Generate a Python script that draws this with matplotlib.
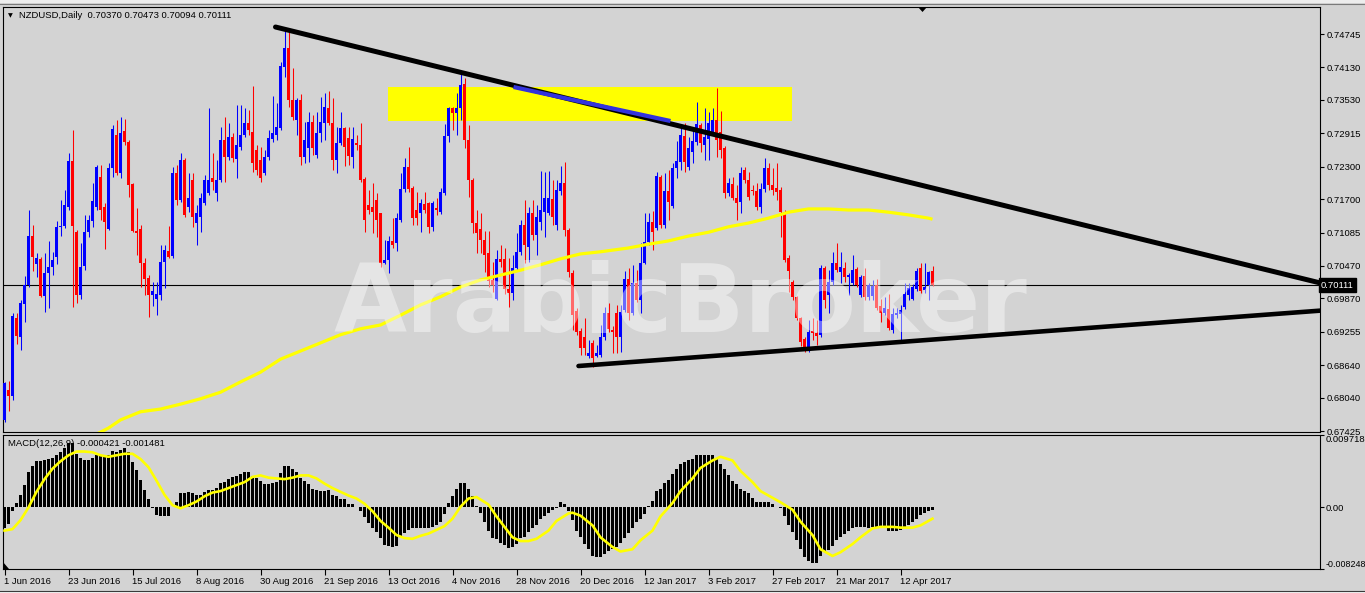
import matplotlib
matplotlib.use("Agg")
import matplotlib.pyplot as plt
import matplotlib.transforms as mtransforms
from matplotlib.patches import Rectangle, Polygon
from matplotlib.lines import Line2D

plt.rcParams['font.family'] = ['Liberation Sans', 'DejaVu Sans']

# ---------------- data ----------------
header = "NZDUSD,Daily  0.70370 0.70473 0.70094 0.70111"
macd_header = "MACD(12,26,9) -0.000421 -0.001481"
last_price = 0.70111

date_labels = ["1 Jun 2016", "23 Jun 2016", "15 Jul 2016", "8 Aug 2016", "30 Aug 2016",
               "21 Sep 2016", "13 Oct 2016", "4 Nov 2016", "28 Nov 2016", "20 Dec 2016",
               "12 Jan 2017", "3 Feb 2017", "27 Feb 2017", "21 Mar 2017", "12 Apr 2017"]
label_step = 16

price_ticks = [0.74745, 0.74130, 0.73530, 0.72915, 0.72300, 0.71700, 0.71085,
               0.70470, 0.69870, 0.69255, 0.68640, 0.68040, 0.67425]
macd_top = 0.009718
macd_bottom = -0.008248

opens = [
 0.6763, 0.6818, 0.6807, 0.6951, 0.6916, 0.6976, 0.7011, 0.7102, 0.7050, 0.7059,
 0.6991, 0.7034, 0.7045, 0.7063, 0.7118, 0.7120, 0.7155, 0.7240, 0.7110, 0.6993,
 0.7047, 0.7109, 0.7130, 0.7155, 0.7211, 0.7155, 0.7115, 0.7227, 0.7288, 0.7218,
 0.7295, 0.7275, 0.7198, 0.7111, 0.7115, 0.7052, 0.7024, 0.6993, 0.6986, 0.6993,
 0.7054, 0.7074, 0.7065, 0.7218, 0.7168, 0.7242, 0.7155, 0.7205, 0.7126, 0.7137,
 0.7163, 0.7181, 0.7209, 0.7181, 0.7205, 0.7279, 0.7248, 0.7284, 0.7244, 0.7266,
 0.7288, 0.7310, 0.7293, 0.7260, 0.7242, 0.7218, 0.7248, 0.7281, 0.7288, 0.7301,
 0.7413, 0.7449, 0.7353, 0.7316, 0.7353, 0.7248, 0.7264, 0.7312, 0.7251, 0.7292,
 0.7310, 0.7338, 0.7310, 0.7242, 0.7273, 0.7301, 0.7283, 0.7248, 0.7273, 0.7270,
 0.7207, 0.7159, 0.7155, 0.7168, 0.7144, 0.7052, 0.7058, 0.7093, 0.7089, 0.7131,
 0.7188, 0.7229, 0.7190, 0.7150, 0.7144, 0.7161, 0.7163, 0.7118, 0.7153, 0.7146,
 0.7181, 0.7286, 0.7338, 0.7329, 0.7338, 0.7382, 0.7279, 0.7205, 0.7126, 0.7115,
 0.7094, 0.7071, 0.7021, 0.6986, 0.7059, 0.7059, 0.7004, 0.6997, 0.7043, 0.7072,
 0.7122, 0.7082, 0.7144, 0.7104, 0.7128, 0.7146, 0.7144, 0.7170, 0.7122, 0.7185,
 0.7200, 0.7113, 0.7034, 0.6963, 0.6927, 0.6916, 0.6880, 0.6904, 0.6880, 0.6882,
 0.6916, 0.6960, 0.6929, 0.6960, 0.6916, 0.6965, 0.7022, 0.6960, 0.7015, 0.6984,
 0.7052, 0.7091, 0.7128, 0.7117, 0.7211, 0.7122, 0.7185, 0.7157, 0.7227, 0.7238,
 0.7286, 0.7229, 0.7257, 0.7275, 0.7307, 0.7270, 0.7281, 0.7292, 0.7316, 0.7294,
 0.7264, 0.7181, 0.7198, 0.7172, 0.7165, 0.7224, 0.7205, 0.7187, 0.7185, 0.7155,
 0.7188, 0.7227, 0.7196, 0.7190, 0.7187, 0.7146, 0.7061, 0.7017, 0.6989, 0.6951,
 0.6912, 0.6897, 0.6927, 0.6923, 0.6919, 0.7043, 0.6993, 0.7017, 0.7052, 0.7035,
 0.7043, 0.7026, 0.7015, 0.7041, 0.6993, 0.7028, 0.6989, 0.6991, 0.7011, 0.6973,
 0.6960, 0.6967, 0.6929, 0.6956, 0.6958, 0.6971, 0.6993, 0.6986, 0.7004, 0.7043,
 0.7002, 0.7011, 0.70370]
highs = [
 0.6833, 0.6835, 0.6960, 0.6960, 0.6984, 0.7028, 0.7150, 0.7122, 0.7071, 0.7063,
 0.7071, 0.7093, 0.7072, 0.7130, 0.7168, 0.7187, 0.7255, 0.7297, 0.7113, 0.7089,
 0.7141, 0.7141, 0.7200, 0.7233, 0.7233, 0.7163, 0.7237, 0.7307, 0.7316, 0.7321,
 0.7318, 0.7279, 0.7200, 0.7153, 0.7122, 0.7061, 0.7030, 0.7017, 0.7017, 0.7085,
 0.7085, 0.7120, 0.7229, 0.7233, 0.7255, 0.7246, 0.7218, 0.7218, 0.7159, 0.7181,
 0.7214, 0.7338, 0.7255, 0.7242, 0.7303, 0.7321, 0.7310, 0.7292, 0.7343, 0.7343,
 0.7338, 0.7334, 0.7378, 0.7270, 0.7266, 0.7260, 0.7297, 0.7360, 0.7347, 0.7423,
 0.7482, 0.7478, 0.7411, 0.7356, 0.7364, 0.7312, 0.7330, 0.7325, 0.7330, 0.7358,
 0.7366, 0.7369, 0.7356, 0.7303, 0.7330, 0.7303, 0.7303, 0.7303, 0.7288, 0.7310,
 0.7211, 0.7187, 0.7200, 0.7181, 0.7144, 0.7094, 0.7102, 0.7135, 0.7144, 0.7218,
 0.7246, 0.7266, 0.7194, 0.7183, 0.7170, 0.7183, 0.7165, 0.7166, 0.7172, 0.7190,
 0.7308, 0.7340, 0.7340, 0.7366, 0.7402, 0.7393, 0.7307, 0.7209, 0.7150, 0.7144,
 0.7111, 0.7111, 0.7054, 0.7076, 0.7085, 0.7080, 0.7061, 0.7067, 0.7107, 0.7131,
 0.7168, 0.7155, 0.7168, 0.7159, 0.7222, 0.7220, 0.7222, 0.7205, 0.7205, 0.7231,
 0.7238, 0.7116, 0.7039, 0.6969, 0.6932, 0.6951, 0.6910, 0.6910, 0.6901, 0.6938,
 0.6971, 0.6978, 0.6936, 0.6975, 0.6975, 0.7037, 0.7043, 0.7048, 0.7039, 0.7089,
 0.7144, 0.7144, 0.7148, 0.7220, 0.7214, 0.7218, 0.7224, 0.7237, 0.7277, 0.7307,
 0.7310, 0.7284, 0.7303, 0.7349, 0.7310, 0.7338, 0.7330, 0.7338, 0.7375, 0.7332,
 0.7268, 0.7209, 0.7211, 0.7196, 0.7229, 0.7229, 0.7220, 0.7196, 0.7200, 0.7200,
 0.7246, 0.7237, 0.7227, 0.7237, 0.7192, 0.7150, 0.7067, 0.7021, 0.6991, 0.6952,
 0.6915, 0.6947, 0.6951, 0.6947, 0.7048, 0.7046, 0.7039, 0.7072, 0.7089, 0.7072,
 0.7054, 0.7034, 0.7067, 0.7045, 0.7030, 0.7043, 0.7015, 0.7021, 0.7022, 0.6986,
 0.6989, 0.6995, 0.6969, 0.6969, 0.6975, 0.7015, 0.7015, 0.7013, 0.7043, 0.7052,
 0.7052, 0.7037, 0.70473]
lows = [
 0.6759, 0.6779, 0.6799, 0.6903, 0.6892, 0.6943, 0.7008, 0.7037, 0.7026, 0.6989,
 0.6962, 0.6969, 0.7030, 0.7050, 0.7102, 0.7117, 0.7150, 0.6971, 0.6978, 0.6986,
 0.7039, 0.7100, 0.7118, 0.7150, 0.7131, 0.7078, 0.7113, 0.7211, 0.7214, 0.7209,
 0.7270, 0.7174, 0.7109, 0.7067, 0.7008, 0.6993, 0.6953, 0.6973, 0.6956, 0.6984,
 0.7006, 0.7061, 0.7061, 0.7159, 0.7165, 0.7137, 0.7146, 0.7118, 0.7085, 0.7109,
 0.7159, 0.7177, 0.7187, 0.7166, 0.7201, 0.7201, 0.7242, 0.7238, 0.7209, 0.7260,
 0.7284, 0.7288, 0.7220, 0.7214, 0.7201, 0.7214, 0.7242, 0.7275, 0.7279, 0.7297,
 0.7395, 0.7340, 0.7316, 0.7288, 0.7233, 0.7237, 0.7238, 0.7251, 0.7246, 0.7275,
 0.7279, 0.7307, 0.7224, 0.7218, 0.7270, 0.7231, 0.7233, 0.7227, 0.7260, 0.7201,
 0.7109, 0.7142, 0.7107, 0.7100, 0.7045, 0.7050, 0.7034, 0.7080, 0.7074, 0.7128,
 0.7183, 0.7183, 0.7122, 0.7122, 0.7109, 0.7144, 0.7107, 0.7111, 0.7141, 0.7142,
 0.7177, 0.7275, 0.7297, 0.7288, 0.7316, 0.7264, 0.7174, 0.7107, 0.7071, 0.7071,
 0.7035, 0.7008, 0.6998, 0.6984, 0.7045, 0.6995, 0.6971, 0.6984, 0.7039, 0.7067,
 0.7052, 0.7054, 0.7094, 0.7067, 0.7113, 0.7100, 0.7141, 0.7122, 0.7113, 0.7177,
 0.7102, 0.7026, 0.6929, 0.6919, 0.6882, 0.6882, 0.6877, 0.6860, 0.6879, 0.6879,
 0.6910, 0.6925, 0.6886, 0.6886, 0.6888, 0.6962, 0.6947, 0.6956, 0.6980, 0.6960,
 0.7050, 0.7085, 0.7076, 0.7113, 0.7117, 0.7117, 0.7131, 0.7153, 0.7209, 0.7224,
 0.7220, 0.7224, 0.7237, 0.7270, 0.7257, 0.7242, 0.7242, 0.7288, 0.7248, 0.7246,
 0.7172, 0.7176, 0.7168, 0.7131, 0.7144, 0.7200, 0.7168, 0.7177, 0.7150, 0.7144,
 0.7183, 0.7187, 0.7177, 0.7168, 0.7100, 0.7054, 0.6998, 0.6984, 0.6947, 0.6900,
 0.6888, 0.6888, 0.6910, 0.6901, 0.6916, 0.6969, 0.6960, 0.7011, 0.7035, 0.7015,
 0.7017, 0.6993, 0.7011, 0.7008, 0.6989, 0.6984, 0.6984, 0.6984, 0.6965, 0.6943,
 0.6956, 0.6929, 0.6923, 0.6951, 0.6910, 0.6967, 0.6984, 0.6984, 0.7000, 0.6997,
 0.6997, 0.6984, 0.70094]
closes = [
 0.6831, 0.6807, 0.6954, 0.6917, 0.6978, 0.7011, 0.7102, 0.7063, 0.7061, 0.6991,
 0.7034, 0.7045, 0.7058, 0.7118, 0.7120, 0.7159, 0.7240, 0.7120, 0.6993, 0.7045,
 0.7109, 0.7131, 0.7166, 0.7229, 0.7150, 0.7128, 0.7227, 0.7299, 0.7218, 0.7292,
 0.7275, 0.7196, 0.7111, 0.7107, 0.7052, 0.7023, 0.6993, 0.7000, 0.6995, 0.7054,
 0.7076, 0.7063, 0.7218, 0.7168, 0.7242, 0.7141, 0.7172, 0.7137, 0.7144, 0.7172,
 0.7205, 0.7205, 0.7201, 0.7205, 0.7279, 0.7248, 0.7284, 0.7246, 0.7270, 0.7288,
 0.7310, 0.7297, 0.7237, 0.7224, 0.7209, 0.7248, 0.7283, 0.7292, 0.7303, 0.7415,
 0.7449, 0.7353, 0.7321, 0.7353, 0.7248, 0.7279, 0.7312, 0.7264, 0.7292, 0.7312,
 0.7340, 0.7310, 0.7242, 0.7273, 0.7301, 0.7266, 0.7249, 0.7281, 0.7270, 0.7205,
 0.7131, 0.7150, 0.7146, 0.7131, 0.7052, 0.7058, 0.7093, 0.7085, 0.7135, 0.7188,
 0.7229, 0.7188, 0.7135, 0.7135, 0.7163, 0.7150, 0.7118, 0.7163, 0.7150, 0.7183,
 0.7286, 0.7338, 0.7329, 0.7338, 0.7380, 0.7279, 0.7205, 0.7126, 0.7107, 0.7094,
 0.7067, 0.7019, 0.7011, 0.7059, 0.7054, 0.7004, 0.6997, 0.7043, 0.7072, 0.7122,
 0.7085, 0.7144, 0.7104, 0.7137, 0.7150, 0.7172, 0.7172, 0.7137, 0.7187, 0.7200,
 0.7113, 0.7035, 0.6956, 0.6925, 0.6895, 0.6895, 0.6886, 0.6877, 0.6886, 0.6916,
 0.6960, 0.6930, 0.6925, 0.6916, 0.6962, 0.7022, 0.6960, 0.7015, 0.6984, 0.7052,
 0.7091, 0.7128, 0.7109, 0.7213, 0.7122, 0.7185, 0.7165, 0.7227, 0.7240, 0.7288,
 0.7238, 0.7264, 0.7277, 0.7308, 0.7273, 0.7284, 0.7310, 0.7316, 0.7279, 0.7260,
 0.7181, 0.7200, 0.7172, 0.7163, 0.7218, 0.7205, 0.7174, 0.7185, 0.7155, 0.7188,
 0.7227, 0.7196, 0.7187, 0.7183, 0.7146, 0.7058, 0.7037, 0.6989, 0.6951, 0.6906,
 0.6895, 0.6925, 0.6923, 0.6917, 0.7043, 0.6984, 0.7017, 0.7052, 0.7039, 0.7045,
 0.7026, 0.7030, 0.7039, 0.7011, 0.7026, 0.6989, 0.7011, 0.7009, 0.6969, 0.6960,
 0.6969, 0.6932, 0.6958, 0.6960, 0.6965, 0.6995, 0.7006, 0.7008, 0.7037, 0.7000,
 0.7008, 0.7035, 0.70111]

ma_bars = [22, 26, 29, 34, 39, 44, 49, 54, 59, 64, 69, 74, 79, 84, 89, 94, 99, 104,
           109, 114, 119, 124, 129, 134, 139, 144, 149, 156, 161, 166, 171, 176, 181,
           186, 191, 196, 201, 206, 211, 216, 221, 226, 231, 232]
ma_vals = [0.6733, 0.6748, 0.6763, 0.6778, 0.6783, 0.6792, 0.6802, 0.6814, 0.6833,
           0.6851, 0.6875, 0.6890, 0.6905, 0.6920, 0.6931, 0.6938, 0.6956, 0.6975,
           0.6990, 0.7008, 0.7021, 0.7030, 0.7039, 0.7049, 0.7060, 0.7069, 0.7073,
           0.7080, 0.7087, 0.7093, 0.7102, 0.7109, 0.7119, 0.7126, 0.7135, 0.7146,
           0.7152, 0.7152, 0.7150, 0.7150, 0.7146, 0.7141, 0.7135, 0.7133]

macd_hist = [
 -0.0028, -0.0022, -0.0005, 0.0006, 0.0017, 0.0030, 0.0048, 0.0055, 0.0062, 0.0062,
 0.0064, 0.0065, 0.0066, 0.0071, 0.0075, 0.0080, 0.0086, 0.0087, 0.0072, 0.0066,
 0.0064, 0.0064, 0.0066, 0.0071, 0.0071, 0.0069, 0.0070, 0.0076, 0.0075, 0.0077,
 0.0080, 0.0074, 0.0061, 0.0050, 0.0037, 0.0023, 0.0011, -0.0001, -0.0010, -0.0011,
 -0.0011, -0.0011, 0.0001, 0.0008, 0.0020, 0.0020, 0.0021, 0.0020, 0.0017, 0.0017,
 0.0021, 0.0023, 0.0024, 0.0026, 0.0033, 0.0034, 0.0038, 0.0041, 0.0042, 0.0045,
 0.0047, 0.0048, 0.0042, 0.0040, 0.0036, 0.0032, 0.0032, 0.0033, 0.0034, 0.0046,
 0.0055, 0.0055, 0.0051, 0.0047, 0.0040, 0.0036, 0.0032, 0.0025, 0.0023, 0.0022,
 0.0022, 0.0023, 0.0017, 0.0015, 0.0011, 0.0011, 0.0004, 0.0004, 0.0001, -0.0005,
 -0.0013, -0.0021, -0.0027, -0.0033, -0.0041, -0.0050, -0.0051, -0.0053, -0.0051, -0.0039,
 -0.0034, -0.0030, -0.0028, -0.0028, -0.0028, -0.0027, -0.0027, -0.0026, -0.0024, -0.0019,
 -0.0009, 0.0006, 0.0016, 0.0025, 0.0033, 0.0033, 0.0025, 0.0015, 0.0002, -0.0008,
 -0.0019, -0.0031, -0.0041, -0.0042, -0.0047, -0.0050, -0.0054, -0.0053, -0.0049, -0.0041,
 -0.0039, -0.0033, -0.0028, -0.0024, -0.0016, -0.0011, -0.0007, -0.0004, -0.0001, 0.0007,
 0.0004, -0.0005, -0.0017, -0.0031, -0.0040, -0.0049, -0.0056, -0.0065, -0.0066, -0.0066,
 -0.0062, -0.0058, -0.0056, -0.0053, -0.0047, -0.0041, -0.0034, -0.0028, -0.0019, -0.0015,
 -0.0009, 0.0002, 0.0009, 0.0022, 0.0025, 0.0033, 0.0037, 0.0045, 0.0051, 0.0058,
 0.0061, 0.0063, 0.0065, 0.0070, 0.0071, 0.0070, 0.0070, 0.0071, 0.0065, 0.0058,
 0.0051, 0.0043, 0.0036, 0.0031, 0.0025, 0.0022, 0.0019, 0.0013, 0.0008, 0.0007,
 0.0008, 0.0008, 0.0005, 0.0001, -0.0001, -0.0012, -0.0023, -0.0033, -0.0044, -0.0056,
 -0.0067, -0.0072, -0.0074, -0.0075, -0.0065, -0.0059, -0.0057, -0.0051, -0.0044, -0.0039,
 -0.0035, -0.0031, -0.0028, -0.0026, -0.0026, -0.0026, -0.0027, -0.0026, -0.0026, -0.0026,
 -0.0026, -0.0031, -0.0032, -0.0031, -0.0030, -0.0028, -0.0024, -0.0019, -0.0015, -0.0010,
 -0.0008, -0.0005, -0.0004]

signal_bars = [0, 2, 4, 6, 8, 10, 12, 14, 16, 18, 20, 22, 24, 26, 28, 30, 32, 34, 36, 38,
               40, 42, 44, 46, 48, 50, 52, 54, 56, 58, 60, 62, 64, 66, 68, 70, 72, 74, 76,
               78, 80, 82, 84, 86, 88, 90, 92, 94, 96, 98, 100, 102, 104, 106, 108, 110,
               112, 114, 116, 118, 121, 123, 125, 127, 129, 131, 133, 136, 138, 141, 142,
               144, 147, 149, 152, 154, 157, 159, 162, 164, 167, 169, 172, 174, 177, 179,
               182, 184, 187, 189, 192, 194, 197, 199, 202, 204, 207, 209, 212, 214, 217,
               219, 222, 224, 227, 229, 232]
signal_vals = [-0.0031, -0.0029, -0.0017, 0.0000, 0.0021, 0.0038, 0.0052, 0.0062, 0.0070,
               0.0075, 0.0075, 0.0074, 0.0070, 0.0068, 0.0070, 0.0072, 0.0072, 0.0065,
               0.0054, 0.0036, 0.0017, 0.0003, -0.0001, 0.0003, 0.0008, 0.0015, 0.0020,
               0.0022, 0.0026, 0.0030, 0.0034, 0.0041, 0.0043, 0.0040, 0.0039, 0.0038,
               0.0040, 0.0043, 0.0043, 0.0039, 0.0032, 0.0026, 0.0021, 0.0016, 0.0012,
               0.0005, -0.0005, -0.0018, -0.0027, -0.0037, -0.0041, -0.0042, -0.0038,
               -0.0035, -0.0030, -0.0025, -0.0015, 0.0001, 0.0012, 0.0014, 0.0004,
               -0.0012, -0.0026, -0.0040, -0.0045, -0.0045, -0.0042, -0.0031, -0.0018,
               -0.0008, -0.0007, -0.0011, -0.0024, -0.0040, -0.0053, -0.0059, -0.0056,
               -0.0044, -0.0031, -0.0012, 0.0006, 0.0022, 0.0039, 0.0053, 0.0063, 0.0068,
               0.0063, 0.0049, 0.0034, 0.0022, 0.0013, 0.0007, -0.0003, -0.0019, -0.0037,
               -0.0056, -0.0065, -0.0060, -0.0049, -0.0040, -0.0028, -0.0026, -0.0026,
               -0.0027, -0.0027, -0.0024, -0.0015]

# drawn objects (bar index, price)
upper_trend_bars = [67.75, 329.0]
upper_trend_prices = [0.74874, 0.70154]
lower_trend_bars = [143.5, 329.0]
lower_trend_prices = [0.68624, 0.69645]
blue_seg_bars = [127.25, 166.5]
blue_seg_prices = [0.73768, 0.73141]
zone_bars = [95.9, 196.9]
zone_prices = [0.73146, 0.73762]

# ---------------- figure ----------------
W, H = 1365, 593
BG = '#D3D3D3'
fig = plt.figure(figsize=(W / 100, H / 100), dpi=100)
fig.patch.set_facecolor(BG)


def box(l, t, r, b):
    return [l / W, 1 - b / H, (r - l) / W, (b - t) / H]


ax = fig.add_axes(box(3, 7, 1320, 432))
axm = fig.add_axes(box(3, 435, 1320, 569))
for a in (ax, axm):
    a.set_facecolor(BG)
    for s in a.spines.values():
        s.set_color('black')
        s.set_linewidth(0.8)
    a.set_xlim(-0.375, 328.875)

ax.set_ylim(0.67407, 0.75243)
axm.set_ylim(macd_bottom, macd_top)

n = len(closes)
idx = list(range(n))
cols = ['#0000FF' if c >= o else '#FF0000' for o, c in zip(opens, closes)]
bottoms = [min(o, c) for o, c in zip(opens, closes)]
heights = [max(abs(c - o), 0.00012) for o, c in zip(opens, closes)]

# yellow zone (background object)
ax.add_patch(Rectangle((zone_bars[0], zone_prices[0]), zone_bars[1] - zone_bars[0],
                       zone_prices[1] - zone_prices[0], facecolor='#FFFF00',
                       edgecolor='none', zorder=1))
ax.axhline(last_price, color='black', lw=0.8, zorder=2)

ax.vlines(idx, lows, highs, colors=cols, linewidth=0.75, zorder=3)
ax.bar(idx, heights, bottom=bottoms, width=0.75, color=cols, linewidth=0, zorder=4)

ax.plot(ma_bars, ma_vals, color='#FFFF00', lw=2.3, zorder=5, solid_capstyle='butt')

ax.plot(upper_trend_bars, upper_trend_prices, color='black', lw=3.6, zorder=6,
        solid_capstyle='round')
ax.plot(blue_seg_bars, blue_seg_prices, color='#3333DD', lw=3.0, zorder=7,
        solid_capstyle='butt')
ax.plot(lower_trend_bars, lower_trend_prices, color='black', lw=3.3, zorder=6,
        solid_capstyle='round')

ax.yaxis.tick_right()
ax.set_yticks(price_ticks)
ax.set_yticklabels([f'{v:.5f}' for v in price_ticks])
ax.tick_params(axis='y', direction='out', length=3, width=0.8, pad=2,
               labelsize=6.8, colors='black')
ax.set_xticks([])

trans = mtransforms.blended_transform_factory(ax.transAxes, ax.transData)
ax.text(1.0008, last_price, f'{last_price:.5f}', transform=trans, ha='left',
        va='center', fontsize=6.8, color='white', clip_on=False, zorder=20,
        bbox=dict(boxstyle='square,pad=0.25', fc='black', ec='black'))

# MACD panel
axm.bar(idx, macd_hist, width=0.75, color='black', linewidth=0, zorder=2)
axm.plot(signal_bars, signal_vals, color='#FFFF00', lw=1.9, zorder=3)
axm.yaxis.tick_right()
axm.set_yticks([macd_top, 0.0, macd_bottom])
axm.set_yticklabels(['0.009718', '0.00', '-0.008248'])
axm.tick_params(axis='y', direction='out', length=3, width=0.8, pad=1,
                labelsize=6.8, colors='black')
ylabs = axm.get_yticklabels()
ylabs[0].set_va('top')
ylabs[2].set_va('bottom')
ylabs[2].set_fontsize(6.4)

tick_pos = [label_step * k for k in range(len(date_labels))]
axm.set_xticks(tick_pos)
axm.set_xticklabels(date_labels, ha='left', fontsize=6.8)
axm.tick_params(axis='x', direction='out', length=4, width=0.8, pad=2)

# texts
fig.text(19 / W, 1 - 15.5 / H, header, fontsize=6.8, ha='left', va='center')
fig.text(8 / W, 1 - 15.5 / H, '\u25BC', fontsize=4.5, ha='left', va='center',
         family='DejaVu Sans')
fig.text(8 / W, 1 - 444 / H, macd_header, fontsize=6.8, ha='left', va='center',
         zorder=5)

fig.text(680 / W, 1 - 332 / H, 'ArabicBroker', fontsize=68, fontweight='bold',
         family='DejaVu Sans', color='white', alpha=0.42, ha='center',
         va='baseline', zorder=10)

# window chrome
fig.add_artist(Rectangle((0, 1 - 3 / H), 1, 3 / H, transform=fig.transFigure,
                         facecolor='#EDEDED', edgecolor='none'))
fig.add_artist(Line2D([0, 1], [1 - 3.5 / H, 1 - 3.5 / H], transform=fig.transFigure,
                      color='#7A7A7A', lw=0.8))
fig.add_artist(Polygon([[918 / W, 1 - 7 / H], [927 / W, 1 - 7 / H], [922.5 / W, 1 - 12 / H]],
                       closed=True, transform=fig.transFigure, facecolor='black',
                       edgecolor='none', zorder=12))
fig.add_artist(Polygon([[3 / W, 1 - 562 / H], [3 / W, 1 - 569 / H], [9 / W, 1 - 569 / H]],
                       closed=True, transform=fig.transFigure, facecolor='black',
                       edgecolor='none', zorder=12))
fig.add_artist(Line2D([0, 1], [1 - 590.5 / H, 1 - 590.5 / H], transform=fig.transFigure,
                      color='#3A3A3A', lw=0.8))
fig.add_artist(Rectangle((0, 0), 1, 2 / H, transform=fig.transFigure,
                         facecolor='#F4F4F4', edgecolor='none'))

fig.savefig('out.png', dpi=100, facecolor=BG)
